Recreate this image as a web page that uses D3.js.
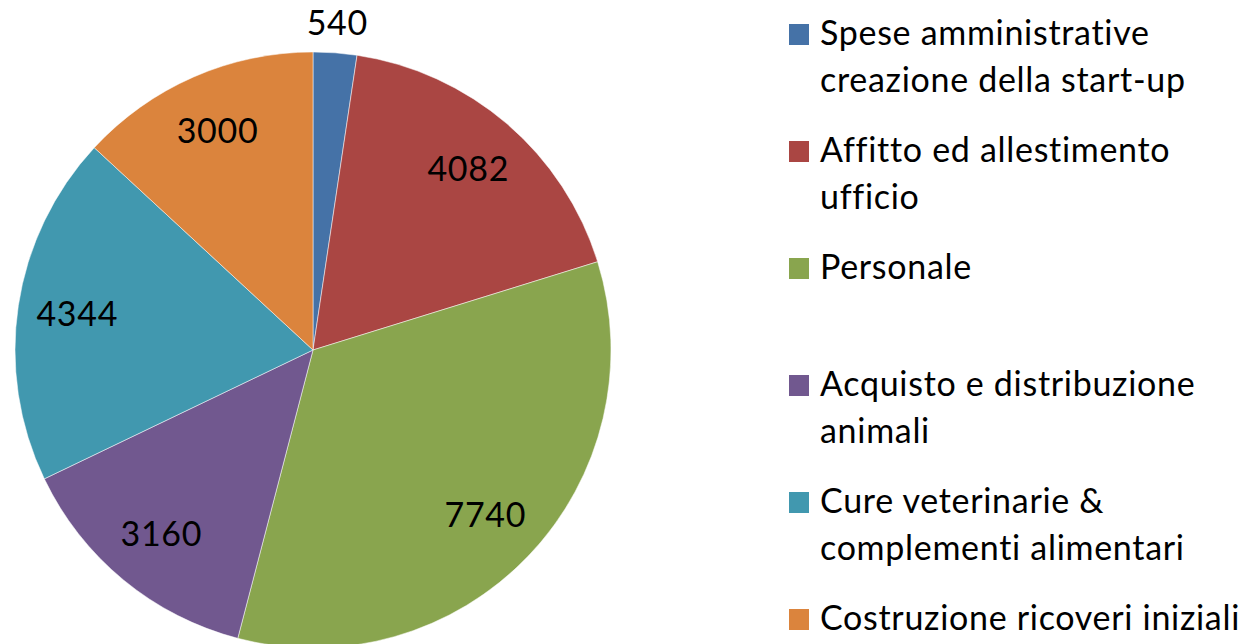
<!DOCTYPE html>
<html>
<head>
<meta charset="utf-8">
<script src="https://cdn.jsdelivr.net/npm/d3@7"></script>
<style>
  body { margin: 0; background: #fff; }
  text { font-family: Lato, "Open Sans", sans-serif; fill: #000; letter-spacing: 0.7px; }
</style>
</head>
<body>
<svg id="chart" width="1249" height="644"></svg>
<script>
// categories, values and colours of the pie
const categories = [
    "Spese amministrative|creazione della start-up",
    "Affitto ed allestimento|ufficio",
    "Personale",
    "Acquisto e distribuzione|animali",
    "Cure veterinarie &|complementi alimentari",
    "Costruzione ricoveri iniziali"
];
const values = [540, 4082, 7740, 3160, 4344, 3000];
const colors = ["#4572A7", "#AA4643", "#89A54E", "#71588F", "#4198AF", "#DB843D"];

const svg = d3.select("#chart");
const cx = 313, cy = 350, radius = 298;
const fontSize = 34;

let pie = d3.pie().sort(null).value(d => d.value);
let arcs = pie(values.map((v, i) => ({ name: categories[i], value: v, color: colors[i] })));

let arc = d3.arc().innerRadius(0).outerRadius(radius);
let labelArc = d3.arc().innerRadius(radius * 0.8).outerRadius(radius * 0.8);
let outsideArc = d3.arc().innerRadius(radius * 1.1).outerRadius(radius * 1.1);

let g = svg.append("g").attr("transform", `translate(${cx},${cy})`);

g.selectAll("path").data(arcs).join("path")
    .attr("d", arc)
    .attr("fill", d => d.data.color)
    .attr("stroke", "#fff")
    .attr("stroke-width", 0.5);

// small slices get their label outside the pie
g.selectAll("text.value").data(arcs).join("text")
    .attr("class", "value")
    .attr("transform", function (d) {
        let small = (d.endAngle - d.startAngle) < 0.3;
        let p = small ? outsideArc.centroid(d) : labelArc.centroid(d);
        return `translate(${p[0]},${p[1]})`;
    })
    .attr("text-anchor", "middle")
    .attr("dy", "0.35em")
    .style("font-size", fontSize + "px")
    .text(d => d.data.value);

// legend
let legend = svg.append("g").attr("transform", "translate(789,0)");
let item = legend.selectAll("g").data(arcs).join("g")
    .attr("transform", (d, i) => `translate(0,${45 + i * 117})`);

item.append("rect")
    .attr("x", 0)
    .attr("y", -21)
    .attr("width", 20)
    .attr("height", 21)
    .attr("fill", d => d.data.color);

item.append("text")
    .attr("x", 31)
    .style("font-size", fontSize + "px")
    .selectAll("tspan").data(d => d.data.name.split("|")).join("tspan")
    .attr("x", 31)
    .attr("y", (d, i) => i * 46.5)
    .text(d => d);
</script>
</body>
</html>
